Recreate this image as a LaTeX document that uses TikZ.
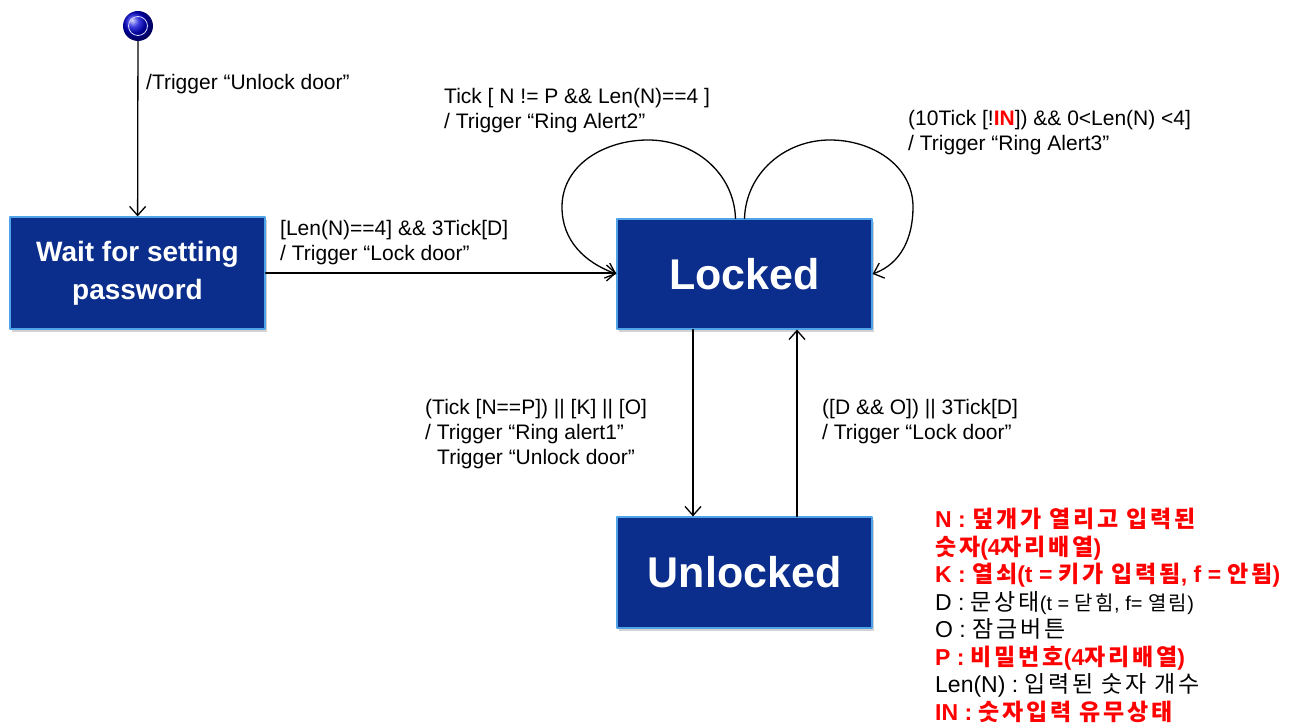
\documentclass[tikz,border=0pt]{standalone}
\usepackage{fontspec}
\setmainfont{Liberation Sans}
\newfontfamily\kr[LetterSpace=12]{Noto Sans CJK KR}
\usepackage{xcolor}
\usetikzlibrary{arrows.meta,shadows}
\definecolor{stateblue}{HTML}{0B2D8B}
\definecolor{stateedge}{HTML}{4FA3E6}
\definecolor{keyred}{HTML}{FF0000}

\begin{document}
\begin{tikzpicture}[line cap=round,line join=round,>={Straight Barb[length=9pt,width=16pt]},x=1pt,y=1pt,
		state/.style={draw=stateedge,line width=1.2pt,fill=stateblue,text=white,align=center,inner sep=0pt,minimum width=255,drop shadow={shadow xshift=2pt,shadow yshift=-3pt,opacity=0.35}},
		trans/.style={->,line width=1.3pt},
		lbl/.style={font=\fontsize{21}{25}\selectfont,align=left,inner sep=0pt,anchor=north west},
		key/.style={font=\fontsize{23}{27.5}\selectfont,align=left,inner sep=0pt,anchor=north west}]
		\useasboundingbox (0,0) rectangle (1291,-727);
		% states
		\node[circle,minimum size=30,inner sep=0pt,shading=ball,ball color=blue!85!black] (init) at (138,-26) {};
		\draw[white!85!blue,line width=0.8pt] (init) circle (9.5);
		\node[state,minimum height=112,font=\fontsize{28}{38}\selectfont\bfseries] (wait) at (137.5,-273) {Wait for setting\\password};
		\node[state,minimum height=110,font=\fontsize{43}{50}\selectfont\bfseries] (locked) at (744.5,-274) {Locked};
		\node[state,minimum height=111,font=\fontsize{43}{50}\selectfont\bfseries] (unlocked) at (744.5,-572.5) {Unlocked};
		% transitions
		\draw[trans] (init) -- (wait);
		\draw[trans] (wait.east) -- (wait.east -| locked.west);
		\draw[trans] ([xshift=-51.5]locked.south) -- ([xshift=-51.5]unlocked.north);
		\draw[trans] ([xshift=52.5]unlocked.north) -- ([xshift=52.5]locked.south);
		\draw[trans] ([xshift=-9]locked.north) to[out=92,in=0] (648,-140) to[out=180,in=90] (562,-207) to[out=-90,in=160] (locked.west);
		\draw[trans] (locked.north) to[out=88,in=180] (830,-140) to[out=0,in=90] (913,-207) to[out=-90,in=20] (locked.east);
		% guards and actions
		\node[lbl] (initlbl) at (146,-74) {/Trigger “Unlock door”};
		\node[lbl] (setlbl) at (280,-220) {[Len(N)==4] \&\& 3Tick[D]\\/ Trigger “Lock door”};
		\node[lbl] (alert2lbl) at (444,-88) {Tick [ N != P \&\& Len(N)==4 ]\\/ Trigger “Ring Alert2”};
		\node[lbl] (alert3lbl) at (908,-110) {(10Tick [!{\bfseries\color{keyred}IN}]) \&\& 0<Len(N) <4]\\/ Trigger “Ring Alert3”};
		\node[lbl] (openlbl) at (425,-399) {(Tick [N==P]) || [K] || [O]\\/ Trigger “Ring alert1”\\\hspace*{12pt}Trigger “Unlock door”};
		\node[lbl] (closelbl) at (822,-399) {([D \&\& O]) || 3Tick[D]\\/ Trigger “Lock door”};
		% variables
		\node[key] (legend) at (935,-508) {%
			{\bfseries\color{keyred}N : {\kr 덮개가 열리고 입력된}}\\
			{\bfseries\color{keyred}{\kr 숫자}(4{\kr 자리배열})}\\
			{\bfseries\color{keyred}K : {\kr 열쇠}(t = {\kr 키가 입력됨}, f = {\kr 안됨})}\\
			D : {\kr 문상태}{\fontsize{20}{27.5}\selectfont(t = {\kr 닫힘}, f= {\kr 열림})}\\
			O : {\kr 잠금버튼}\\
			{\bfseries\color{keyred}P : {\kr 비밀번호}(4{\kr 자리배열})}\\
			Len(N) : {\kr 입력된 숫자 개수}\\
			{\bfseries\color{keyred}IN : {\kr 숫자입력 유무상태}}};
	\end{tikzpicture}
\end{document}
